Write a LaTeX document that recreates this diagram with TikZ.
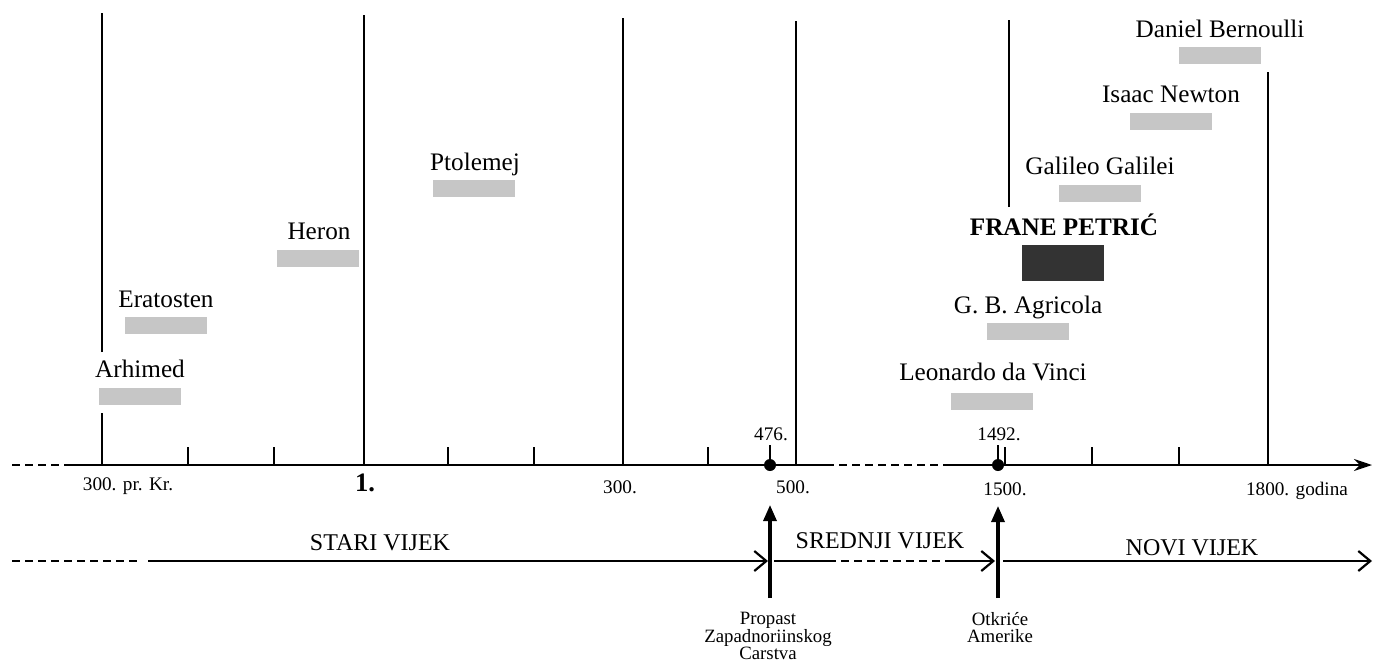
\documentclass[tikz,border=0pt]{standalone}
\usepackage{fontspec}
\setmainfont{Liberation Serif}
\usetikzlibrary{arrows.meta}
\tikzset{ ime/.style = { anchor       = base
                       , inner sep    = 0pt
                       , font         = \fontsize{12.6}{14}\selectfont
                       },
          traka/.style = { fill           = gray!45
                         , inner sep      = 0pt
                         , minimum width  = 41pt
                         , minimum height = 8.5pt
                         },
          god/.style = { anchor    = base
                       , inner sep = 0pt
                       , font      = \fontsize{9.6}{11}\selectfont
                       },
          doba/.style = { anchor    = base
                        , inner sep = 0pt
                        , font      = \fontsize{12}{14}\selectfont
                        },
          dog/.style = { anchor    = north
                       , inner sep = 0pt
                       , align     = center
                       , font      = \fontsize{9.4}{8.7}\selectfont
                       },
          crta/.style = { line width = 1.1pt },
          isprek/.style = { line width = 1.1pt, dash pattern = on 4pt off 2.5pt },
          dot/.style = { circle, fill, inner sep = 0pt, minimum size = 6pt }
        }

\begin{document}
\begin{tikzpicture}[x=0.5pt, y=-0.5pt]
            \useasboundingbox (0,0) rectangle (1375,665);
            % os vremena
            \coordinate (os0) at (12,465);
            \coordinate (os1) at (65,465);
            \coordinate (os2) at (826,465);
            \coordinate (os3) at (950,465);
            \coordinate (os4) at (1372,465);
            \draw[isprek] (os0) -- (os1);
            \draw[crta] (os1) -- (os2);
            \draw[isprek] (os2) -- (os3);
            \draw[crta, -{Stealth[length=9pt,width=6pt]}] (os3) -- (os4);
            % stoljeca
            \coordinate (a300) at (102,465);  \coordinate (a300g) at (102,13);
            \coordinate (a1)   at (364,465);  \coordinate (a1g)   at (364,15);
            \coordinate (b300) at (623,465);  \coordinate (b300g) at (623,18);
            \coordinate (b500) at (796,465);  \coordinate (b500g) at (796,21);
            \coordinate (b1500g) at (1009,20); \coordinate (b1500d) at (1009,207);
            \coordinate (b1800) at (1268,465); \coordinate (b1800g) at (1268,72);
            \draw[crta] (a300) -- (102,413);
            \draw[crta] (102,352) -- (a300g);
            \draw[crta] (a1) -- (a1g);
            \draw[crta] (b300) -- (b300g);
            \draw[crta] (b500) -- (b500g);
            \draw[crta] (b1500d) -- (b1500g);
            \draw[crta] (b1800) -- (b1800g);
            % manje crtice
            \draw[crta] (188,465) -- (188,447);
            \draw[crta] (274,465) -- (274,447);
            \draw[crta] (448,465) -- (448,447);
            \draw[crta] (534,465) -- (534,447);
            \draw[crta] (708,465) -- (708,447);
            \draw[crta] (1005,465) -- (1005,447);
            \draw[crta] (1092,465) -- (1092,447);
            \draw[crta] (1179,465) -- (1179,447);
            % 476. i 1492.
            \node[dot] (d476) at (770,465) {};
            \node[dot] (d1492) at (998,465) {};
            \draw[crta] (d476.center) -- (770,445);
            \draw[crta] (d1492.center) -- (998,445);
            \node[god] (t476)  at (771,440) {476.};
            \node[god] (t1492) at (999,440) {1492.};
            % godine
            \node[god] (g300pr) at (128,490) {300. pr. Kr.};
            \node[god, font=\fontsize{13.3}{15}\selectfont\bfseries] (g1) at (365,491) {1.};
            \node[god] (g300)  at (620,493) {300.};
            \node[god] (g500)  at (793,493) {500.};
            \node[god] (g1500) at (1005,495) {1500.};
            \node[god] (g1800) at (1297,495) {1800. godina};
            % osobe
            \node[ime]   (arh)  at (140,377) {Arhimed};
            \node[traka] (arhT) at (140,396) {};
            \node[ime]   (era)  at (166,307) {Eratosten};
            \node[traka] (eraT) at (166,325) {};
            \node[ime]   (her)  at (319,239) {Heron};
            \node[traka] (herT) at (318,258) {};
            \node[ime]   (pto)  at (475,170) {Ptolemej};
            \node[traka] (ptoT) at (474,188) {};
            \node[ime]   (leo)  at (993,380) {Leonardo da Vinci};
            \node[traka] (leoT) at (992,401) {};
            \node[ime]   (agr)  at (1028,313) {G. B. Agricola};
            \node[traka] (agrT) at (1028,331) {};
            \node[ime, font=\fontsize{12.6}{14}\selectfont\bfseries] (pet) at (1064,235) {FRANE PETRIĆ};
            \node[traka, fill=black!80, minimum height=18pt] (petT) at (1063,263) {};
            \node[ime]   (gal)  at (1100,174) {Galileo Galilei};
            \node[traka] (galT) at (1100,193) {};
            \node[ime]   (new)  at (1171,102) {Isaac Newton};
            \node[traka] (newT) at (1171,121) {};
            \node[ime]   (ber)  at (1220,37) {Daniel Bernoulli};
            \node[traka] (berT) at (1220,55) {};
            % doba
            \coordinate (v0) at (12,561);
            \coordinate (v1) at (137,561);
            \coordinate (v2) at (148,561);
            \coordinate (v3) at (768,561);
            \coordinate (v4) at (774,561);
            \coordinate (v5) at (828,561);
            \coordinate (v6) at (948,561);
            \coordinate (v7) at (995,561);
            \coordinate (v8) at (1003,561);
            \coordinate (v9) at (1372,561);
            \draw[isprek] (v0) -- (v1);
            \draw[crta, -{Straight Barb[length=6pt,width=10pt]}] (v2) -- (v3);
            \draw[crta] (v4) -- (v5);
            \draw[isprek] (v5) -- (v6);
            \draw[crta, -{Straight Barb[length=6pt,width=10pt]}] (v6) -- (v7);
            \draw[crta, -{Straight Barb[length=6pt,width=10pt]}] (v8) -- (v9);
            \node[doba] (stari)   at (380,550) {STARI VIJEK};
            \node[doba] (srednji) at (880,548) {SREDNJI VIJEK};
            \node[doba] (novi)    at (1192,555) {NOVI VIJEK};
            % dogadaji
            \coordinate (p0) at (770,598);
            \coordinate (p1) at (770,505);
            \coordinate (o0) at (998,598);
            \coordinate (o1) at (998,506);
            \draw[line width=1.6pt, -{Triangle[length=8pt,width=6.5pt]}] (p0) -- (p1);
            \draw[line width=1.6pt, -{Triangle[length=8pt,width=6.5pt]}] (o0) -- (o1);
            \node[dog] (propast) at (768,612) {Propast\\Zapadnoriinskog\\Carstva};
            \node[dog] (amerika) at (1000,612) {Otkriće\\Amerike};
\end{tikzpicture}
\end{document}
